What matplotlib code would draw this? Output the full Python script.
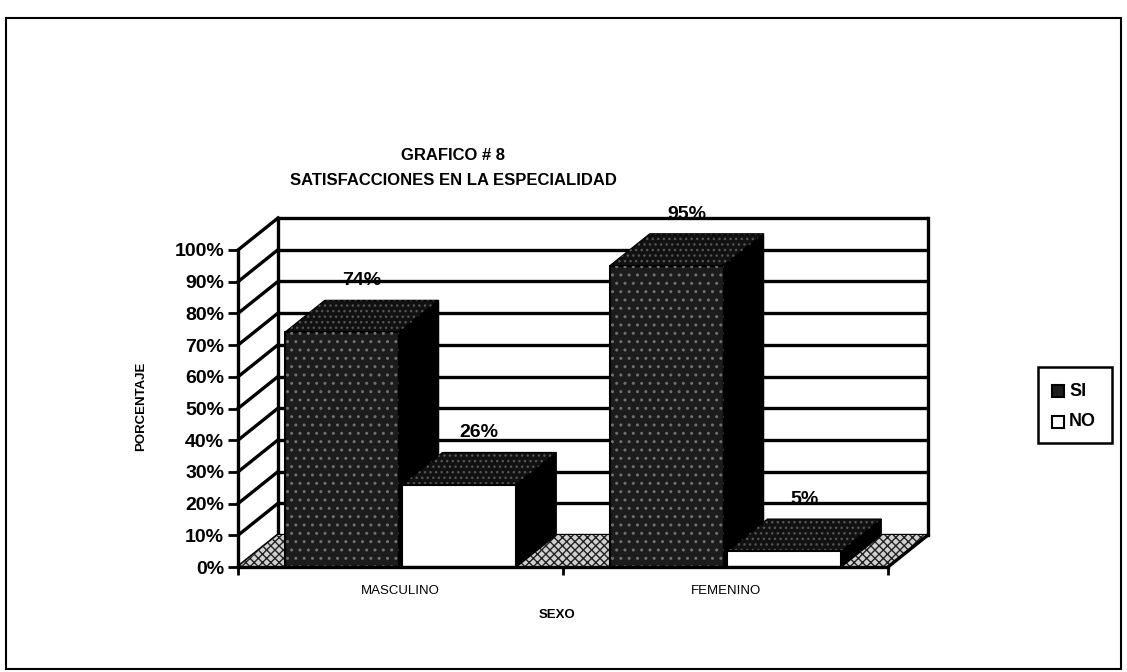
import numpy as np
import matplotlib
matplotlib.use("Agg")
from matplotlib import pyplot as plt
from matplotlib.patches import Polygon, Rectangle

# Data
categories = ["MASCULINO", "FEMENINO"]
series_names = ["SI", "NO"]
si_values = [74, 95]
no_values = [26, 5]
y_ticks = list(range(0, 101, 10))
y_tick_labels = [str(v) + "%" for v in y_ticks]

title = "GRAFICO # 8\nSATISFACCIONES EN LA ESPECIALIDAD"
x_label = "SEXO"
y_label = "PORCENTAJE"

plt.rcParams["font.family"] = ["Liberation Sans", "DejaVu Sans"]

W, H = 1127, 672
figure = plt.figure(figsize=(W / 100, H / 100), dpi=100)

# Plot area in pixels: front axis x=238, back wall right x=928, floor y=567, wall top y=218
depth_x = 40 / 325.0     # oblique depth offset in category units
depth_y = 32 / 3.17      # oblique depth offset in percent units
left_px, right_px, bottom_px, top_px = 238, 928, 567, 218
axis = figure.add_axes([left_px / W, 1 - bottom_px / H,
                        (right_px - left_px) / W, (bottom_px - top_px) / H])
axis.set_xlim(-0.5, 1.5 + depth_x)
axis.set_ylim(0, 100 + depth_y)
axis.set_facecolor("none")

lw = 2.4
x0, x1 = -0.5, 1.5
bx0, bx1 = x0 + depth_x, x1 + depth_x

# back wall gridlines and left wall diagonals
for v in y_ticks:
    axis.plot([bx0, bx1], [v + depth_y, v + depth_y], color="k", lw=lw,
              clip_on=False, solid_capstyle="butt", zorder=1)
    axis.plot([x0, bx0], [v, v + depth_y], color="k", lw=lw,
              clip_on=False, zorder=1)
axis.plot([bx0, bx0], [depth_y, 100 + depth_y], color="k", lw=lw, clip_on=False, zorder=1)
axis.plot([bx1, bx1], [depth_y, 100 + depth_y], color="k", lw=lw, clip_on=False, zorder=1)

# floor
floor = Polygon([(x0, 0), (x1, 0), (bx1, depth_y), (bx0, depth_y)],
                closed=True, facecolor="#d0d0d0", edgecolor="#222222",
                hatch="xxxx", lw=0, zorder=2, clip_on=False)
axis.add_patch(floor)
axis.plot([x1, bx1], [0, depth_y], color="k", lw=lw, clip_on=False, zorder=2)

# bars
width = 0.35
gap = 0.012
positions = np.arange(len(categories))
offsets = [-(width + gap) / 2, (width + gap) / 2]
series_values = [si_values, no_values]
front_colors = ["#1c1c1c", "white"]

bars_in_order = []
for ci in positions:
    for si in range(len(series_names)):
        bars_in_order.append((ci, si))

zorder = 3
for ci, si in bars_in_order:
    value = series_values[si][ci]
    xc = ci + offsets[si]
    left = xc - width / 2
    right = xc + width / 2
    side = Polygon([(right, 0), (right + depth_x, depth_y),
                    (right + depth_x, value + depth_y), (right, value)],
                   closed=True, facecolor="black", edgecolor="black", lw=1,
                   zorder=zorder, clip_on=False)
    top = Polygon([(left, value), (right, value),
                   (right + depth_x, value + depth_y), (left + depth_x, value + depth_y)],
                  closed=True, facecolor="#111111", edgecolor="black", lw=1,
                  zorder=zorder, clip_on=False)
    top_dots = Polygon(top.get_xy(), closed=True, fill=False, hatch="...",
                       edgecolor="#555555", lw=0, zorder=zorder, clip_on=False)
    axis.add_patch(side)
    axis.add_patch(top)
    axis.add_patch(top_dots)
    axis.bar(xc, value, width=width, color=front_colors[si],
             edgecolor="black", linewidth=1.5, zorder=zorder + 0.5,
             clip_on=False)
    if si == 0:
        axis.bar(xc, value, width=width, fill=False, hatch="..",
                 edgecolor="#707070", linewidth=0, zorder=zorder + 0.6,
                 clip_on=False)
    axis.annotate(str(value) + "%", xy=(xc + depth_x / 2, value + depth_y),
                  xytext=(0, 8), textcoords="offset points", ha="center",
                  va="bottom", fontsize=14, fontweight="bold",
                  annotation_clip=False, zorder=10)
    zorder += 1

# front axes
axis.plot([x0, x0], [0, 100], color="k", lw=lw, clip_on=False, zorder=20)
axis.plot([x0, x1], [0, 0], color="k", lw=lw, clip_on=False, zorder=20)
for side_name in ["top", "right", "left", "bottom"]:
    axis.spines[side_name].set_visible(False)

axis.set_yticks(y_ticks)
axis.set_yticklabels(y_tick_labels, fontsize=14, fontweight="bold")
axis.tick_params(axis="y", length=7, width=2, pad=3)

axis.set_xticks(positions)
axis.set_xticklabels(categories, fontsize=9.5)
axis.set_xticks([-0.5, 0.5, 1.5], minor=True)
axis.tick_params(axis="x", which="major", length=0, pad=13)
axis.tick_params(axis="x", which="minor", length=6, width=2)

figure.text(141 / W, 1 - 406 / H, y_label, rotation=90, ha="center",
            va="center", fontsize=9.5, fontweight="bold")
figure.text(557 / W, 1 - 615 / H, x_label, ha="center", va="center",
            fontsize=9.5, fontweight="bold")
figure.text(453 / W, 1 - 168 / H, title, ha="center", va="center",
            fontsize=12, fontweight="bold", linespacing=1.9)

# legend
legend_box = Rectangle((1038 / W, 1 - 443 / H), 74 / W, 76 / H,
                       transform=figure.transFigure, fill=False,
                       edgecolor="black", lw=1.8)
figure.patches.append(legend_box)
legend_rows = [391, 422]
for name, color, ypx in zip(series_names, front_colors, legend_rows):
    marker = Rectangle((1052 / W, 1 - (ypx + 6) / H), 12 / W, 12 / H,
                       transform=figure.transFigure, facecolor=color,
                       edgecolor="black", lw=1.5)
    figure.patches.append(marker)
    figure.text(1069 / W, 1 - ypx / H, name, ha="left", va="center",
                fontsize=13, fontweight="bold")

# outer frame
frame = Rectangle((6 / W, 1 - 669 / H), 1115 / W, 651 / H,
                  transform=figure.transFigure, fill=False,
                  edgecolor="black", lw=1.5)
figure.patches.append(frame)

figure.savefig("out.png", dpi=100)
